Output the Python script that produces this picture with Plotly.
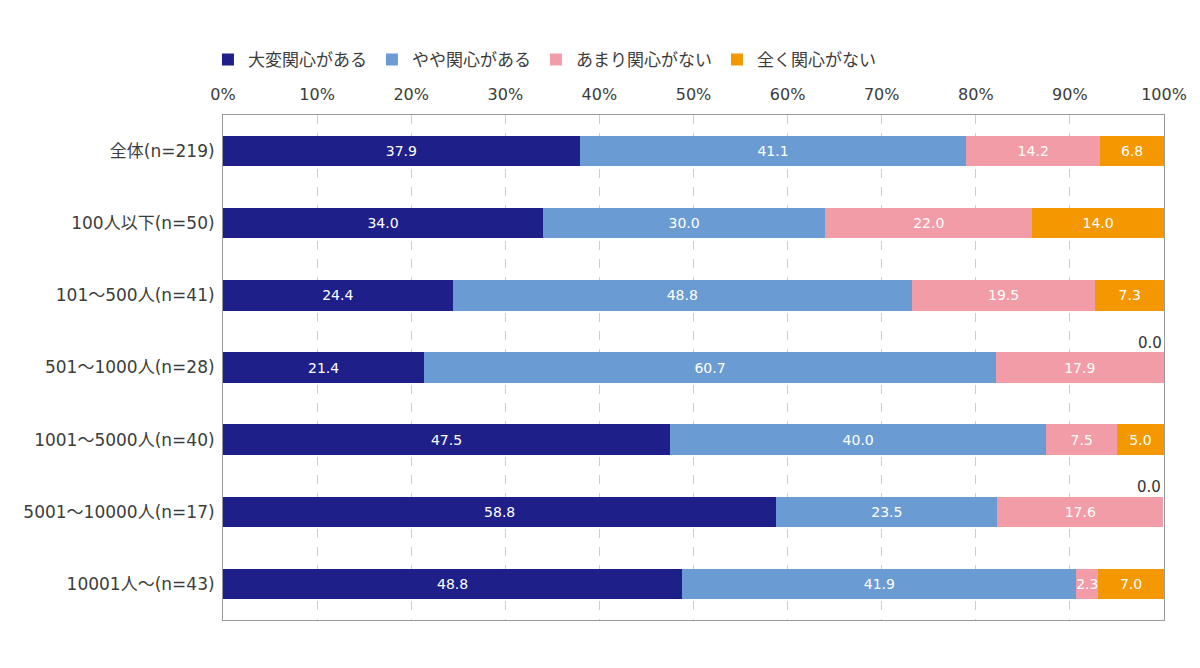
import plotly.graph_objects as go

# Data
groups = ['全体(n=219)', '100人以下(n=50)', '101～500人(n=41)', '501～1000人(n=28)',
          '1001～5000人(n=40)', '5001～10000人(n=17)', '10001人～(n=43)']
series = ['大変関心がある', 'やや関心がある', 'あまり関心がない', '全く関心がない']
very = [37.9, 34.0, 24.4, 21.4, 47.5, 58.8, 48.8]
some = [41.1, 30.0, 48.8, 60.7, 40.0, 23.5, 41.9]
little = [14.2, 22.0, 19.5, 17.9, 7.5, 17.6, 2.3]
none_ = [6.8, 14.0, 7.3, 0.0, 5.0, 0.0, 7.0]
colors = ['#1f1f8a', '#6b9bd3', '#f29ca8', '#f39800']

font = 'DejaVu Sans, Noto Sans CJK JP, sans-serif'

fig = go.Figure()
for name, vals, col in zip(series, [very, some, little, none_], colors):
    fig.add_trace(go.Bar(
        y=groups, x=vals, name=name, orientation='h',
        marker=dict(color=col, line=dict(width=0)),
        text=[f'{v:.1f}' if v > 0 else '' for v in vals],
        textposition='inside', insidetextanchor='middle', textangle=0,
        textfont=dict(color='white', size=14, family=font),
        hoverinfo='x+name',
    ))

# zero labels sit above the end of the bar
for g, v, a, b, c in zip(groups, none_, very, some, little):
    if v == 0:
        fig.add_annotation(x=a + b + c, y=g, text=f'{v:.1f}', showarrow=False,
                           xanchor='right', yanchor='bottom', yshift=14,
                           font=dict(size=15, color='#333', family=font))

# page body has an 8px margin, so the figure is sized and offset for it
fig.update_layout(
    barmode='stack', bargap=0.58,
    width=1184, height=652,
    margin=dict(l=215, r=28, t=107, b=40, autoexpand=False),
    paper_bgcolor='white', plot_bgcolor='white',
    font=dict(family=font, size=16, color='#3c3c3c'),
    uniformtext=dict(minsize=14, mode='show'),
    legend=dict(orientation='h', x=-0.016, y=1.109, xanchor='left', yanchor='middle',
                font=dict(size=17), traceorder='normal',
                itemwidth=30, tracegroupgap=0),
)
fig.update_xaxes(range=[0, 100], dtick=10, ticksuffix='%', side='top',
                 showgrid=True, gridcolor='#cfcfcf', griddash='dash', gridwidth=1,
                 showline=True, linecolor='#999', mirror=True, zeroline=False,
                 ticks='', ticklabelstandoff=8, tickfont=dict(size=16), automargin=False)
fig.update_yaxes(autorange='reversed', showline=True, linecolor='#999', mirror=True,
                 ticks='', ticklabelstandoff=4, tickfont=dict(size=17), automargin=False)

fig.write_html("out.html")
